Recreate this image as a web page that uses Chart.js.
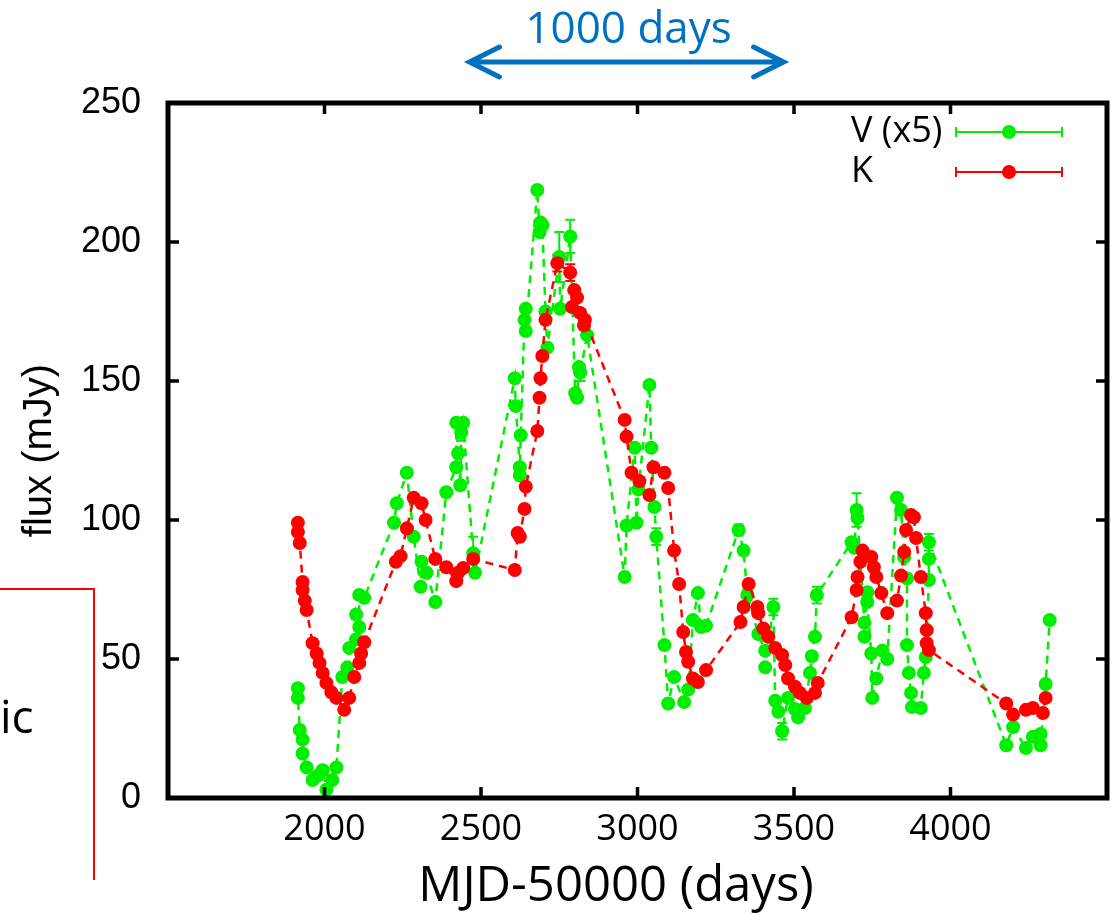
<!DOCTYPE html>
<html>
<head>
<meta charset="utf-8">
<title>V and K light curves</title>
<script src="https://cdn.jsdelivr.net/npm/chart.js@4.4.1/dist/chart.umd.min.js"></script>
<style>
    html, body { margin: 0; padding: 0; background: #fff; }
    #wrap { position: relative; width: 1117px; height: 915px; }
</style>
</head>
<body>
<div id="wrap"><canvas id="lc-chart"></canvas></div>
<script>
/* ── Data (MJD-50000, flux in mJy) ── */
var vDays = [1915, 1915, 1921, 1930, 1930, 1943, 1962, 1978, 1994, 2006, 2025, 2038, 2057, 2073, 2079, 2101, 2101, 2111, 2111, 2127,
    2222, 2231, 2263, 2285, 2307, 2310, 2326, 2354, 2389, 2421, 2421, 2427, 2434, 2437, 2443, 2475, 2481,
    2608, 2611, 2624, 2624, 2627, 2639, 2643, 2643, 2680, 2687, 2690, 2696, 2706, 2712, 2750, 2753, 2785,
    2801, 2807, 2813, 2817, 2839, 2959, 2965, 2991, 2997, 3003, 3038, 3044, 3054, 3060, 3086, 3098, 3117,
    3149, 3162, 3177, 3193, 3203, 3219, 3323, 3339, 3351, 3386, 3408, 3408, 3434, 3440, 3450, 3462, 3481,
    3503, 3513, 3535, 3551, 3557, 3567, 3573, 3684, 3693, 3700, 3703, 3725, 3725, 3734, 3734, 3747, 3750,
    3763, 3782, 3798, 3829, 3842, 3852, 3861, 3861, 3867, 3874, 3877, 3905, 3915, 3921, 3931, 3931, 3931,
    4178, 4200, 4241, 4263, 4288, 4288, 4304, 4317];
var vFlux = [39.5, 36, 24.5, 21, 16, 11, 6.5, 8, 10, 3, 6.5, 11, 43.5, 47, 54, 57, 66, 61.5, 73, 72,
    99, 106, 117, 94, 76, 85, 81, 70.5, 110, 119, 135, 124, 112.5, 131.5, 135, 88, 81,
    151, 141, 119, 116, 130.5, 172, 176, 168, 218.7, 203.6, 207, 206, 175, 162, 194.6, 176, 202,
    145.6, 144, 155, 153, 166.5, 79.5, 98, 126, 99, 111, 148.6, 126, 104.7, 94, 55, 34, 43.5,
    34.5, 39, 64, 73.7, 61.5, 62, 96.4, 89, 73, 59, 53, 47, 68.7, 35, 31, 24, 36,
    32, 29, 32.4, 45, 51, 58, 73, 92, 90, 103.6, 100.7, 63, 58, 74, 70.5, 52, 36,
    43, 53, 50, 108, 103.6, 86.7, 79, 55, 45, 37.8, 32.7, 32.4, 45, 50.7, 78.4, 86, 92,
    19, 25.5, 18, 22, 23, 19, 41, 64];
var vErr = [0, 0, 0, 0, 0, 0, 0, 0, 0, 0, 0, 0, 0, 0, 0, 0, 0, 0, 0, 0,
    0, 0, 0, 0, 0, 0, 0, 0, 0, 0, 0, 0, 0, 3, 0, 6, 0,
    0, 0, 0, 0, 0, 0, 0, 0, 0, 0, 0, 0, 0, 0, 9, 0, 6,
    0, 0, 0, 3, 0, 0, 0, 0, 0, 0, 0, 0, 0, 3, 0, 0, 0,
    0, 0, 0, 0, 0, 0, 2, 0, 2, 0, 0, 0, 3, 0, 0, 3, 0,
    0, 0, 0, 0, 0, 0, 3, 0, 0, 6, 0, 0, 0, 0, 0, 0, 0,
    0, 0, 0, 0, 0, 0, 0, 0, 0, 0, 0, 0, 0, 0, 0, 0, 3,
    0, 0, 0, 0, 0, 0, 0, 0];

var kDays = [1915, 1915, 1921, 1930, 1930, 1937, 1943, 1962, 1975, 1984, 1994, 2006, 2022, 2038, 2063, 2079, 2095, 2111, 2117, 2127,
    2228, 2243, 2263, 2285, 2310, 2323, 2354, 2389, 2421, 2427, 2443, 2475,
    2608, 2617, 2624, 2639, 2643, 2680, 2687, 2690, 2696, 2706, 2744, 2785, 2791, 2798, 2807, 2817, 2829, 2832,
    2959, 2965, 2981, 3006, 3038, 3051, 3086, 3098, 3117, 3133, 3146, 3155, 3162, 3177, 3193, 3219,
    3329, 3339, 3355, 3383, 3386, 3402, 3418, 3440, 3462, 3472, 3481, 3503, 3519, 3541, 3567, 3576,
    3684, 3700, 3703, 3712, 3719, 3747, 3755, 3763, 3779, 3798, 3829, 3842, 3852, 3858, 3874, 3883, 3890,
    3905, 3921, 3924, 3924, 3931, 4178, 4200, 4241, 4263, 4295, 4304];
var kFlux = [99, 95.7, 91.7, 77.7, 74.8, 71, 67.6, 55.7, 52, 48.6, 45, 41.4, 38, 36, 31.7, 36, 43.5, 48.6, 52, 56,
    85, 87, 97, 108, 106, 100, 86, 83, 78, 81, 82.7, 86,
    82, 95.3, 94, 104, 112, 132, 144, 151, 159, 172, 192.4, 189, 176.6, 182.7, 180, 174.5, 170, 172,
    136, 130, 117, 114, 109, 119, 117, 111.5, 89, 77, 59.7, 52.5, 49, 43, 41.7, 46,
    63.3, 68.7, 77, 68.7, 66.5, 61, 58, 54, 51.4, 47.8, 43, 40, 37.8, 36, 37.8, 41.4,
    65, 74.8, 79.5, 85, 89, 86.7, 83, 79.5, 73.7, 66.5, 71, 80, 88.5, 96.4, 101.8, 101, 93.5,
    79.5, 66.5, 60.4, 55.7, 53.2, 34, 30, 31.7, 32.4, 30.6, 36];
var kErr = [0, 0, 0, 0, 0, 0, 0, 0, 0, 0, 0, 0, 0, 0, 0, 0, 0, 0, 0, 0,
    0, 0, 0, 0, 0, 0, 0, 0, 0, 0, 0, 0,
    0, 0, 0, 0, 0, 0, 0, 0, 0, 0, 3, 3, 0, 0, 0, 0, 0, 0,
    0, 0, 0, 0, 0, 0, 0, 0, 0, 0, 0, 0, 0, 0, 0, 0,
    0, 0, 0, 0, 0, 0, 0, 0, 0, 0, 0, 0, 0, 0, 0, 0,
    0, 0, 0, 0, 0, 0, 0, 0, 0, 0, 0, 0, 0, 0, 0, 0, 0,
    0, 0, 0, 0, 0, 0, 0, 0, 0, 0, 0];

var seriesLabels = ['V (x5)', 'K'];
var xTicks = [2000, 2500, 3000, 3500, 4000];
var yTicks = [0, 50, 100, 150, 200, 250];
var spanFrom = 2460, spanTo = 3470;   // the "1000 days" arrow
var spanLabel = '1000 days';

(function () {
    'use strict';

    var colours = {
        green: '#00ee00',
        red:   '#ff0000',
        blue:  '#0070c0',
        ink:   '#000000'
    };

    function toPoints(xs, ys) {
        return xs.map(function (d, i) { return { x: d, y: ys[i] }; });
    }

    /* ── Frame, inward ticks, error bars, legend and slide annotations ── */
    var framePlugin = {
        id: 'gnuplotFrame',
        beforeDatasetsDraw: function (chart) {
            var ctx = chart.ctx;
            var xs = chart.scales.x, ys = chart.scales.y;
            var sets = [[vDays, vFlux, vErr, colours.green], [kDays, kFlux, kErr, colours.red]];
            ctx.save();
            ctx.lineWidth = 2;
            sets.forEach(function (s) {
                ctx.strokeStyle = s[3];
                s[2].forEach(function (e, i) {
                    if (!e) { return; }
                    var px = xs.getPixelForValue(s[0][i]);
                    var lo = ys.getPixelForValue(s[1][i] - e);
                    var hi = ys.getPixelForValue(s[1][i] + e);
                    ctx.beginPath();
                    ctx.moveTo(px, lo); ctx.lineTo(px, hi);
                    ctx.moveTo(px - 5, lo); ctx.lineTo(px + 5, lo);
                    ctx.moveTo(px - 5, hi); ctx.lineTo(px + 5, hi);
                    ctx.stroke();
                });
            });
            ctx.restore();
        },
        afterDraw: function (chart) {
            var ctx = chart.ctx;
            var a = chart.chartArea;
            var xs = chart.scales.x, ys = chart.scales.y;
            ctx.save();

            // border + mirrored inward ticks
            ctx.strokeStyle = colours.ink;
            ctx.lineWidth = 5;
            ctx.strokeRect(a.left, a.top, a.right - a.left, a.bottom - a.top);
            ctx.lineWidth = 3.5;
            ctx.beginPath();
            yTicks.forEach(function (v) {
                var py = ys.getPixelForValue(v);
                ctx.moveTo(a.left, py); ctx.lineTo(a.left + 11, py);
                ctx.moveTo(a.right, py); ctx.lineTo(a.right - 11, py);
            });
            xTicks.forEach(function (v) {
                var px = xs.getPixelForValue(v);
                ctx.moveTo(px, a.bottom); ctx.lineTo(px, a.bottom - 11);
                ctx.moveTo(px, a.top); ctx.lineTo(px, a.top + 11);
            });
            ctx.stroke();

            // legend (gnuplot style: line with error caps and a point)
            var rows = [[seriesLabels[0], colours.green], [seriesLabels[1], colours.red]];
            ctx.font = '36px "Open Sans", sans-serif';
            ctx.textBaseline = 'middle';
            ctx.textAlign = 'left';
            rows.forEach(function (r, i) {
                var y = a.top + 29 + i * 40;
                var x0 = a.right - 151, x1 = a.right - 45;
                ctx.fillStyle = colours.ink;
                ctx.fillText(r[0], a.right - 256, y);
                ctx.strokeStyle = r[1];
                ctx.fillStyle = r[1];
                ctx.lineWidth = 2;
                ctx.beginPath();
                ctx.moveTo(x0, y); ctx.lineTo(x1, y);
                ctx.moveTo(x0, y - 5); ctx.lineTo(x0, y + 5);
                ctx.moveTo(x1, y - 5); ctx.lineTo(x1, y + 5);
                ctx.stroke();
                ctx.beginPath();
                ctx.arc((x0 + x1) / 2, y, 7, 0, Math.PI * 2);
                ctx.fill();
            });

            // x axis title (sits a little left of centre on the slide)
            ctx.fillStyle = colours.ink;
            ctx.font = '49px "Open Sans", sans-serif';
            ctx.textAlign = 'center';
            ctx.textBaseline = 'alphabetic';
            ctx.fillText('MJD-50000 (days)', 616, 901);

            // "1000 days" arrow
            var ax0 = xs.getPixelForValue(spanFrom), ax1 = xs.getPixelForValue(spanTo);
            var ay = 62;
            ctx.strokeStyle = colours.blue;
            ctx.fillStyle = colours.blue;
            ctx.lineWidth = 5;
            ctx.lineCap = 'round';
            ctx.beginPath();
            ctx.moveTo(ax0 + 2, ay); ctx.lineTo(ax1 - 2, ay);
            ctx.moveTo(ax0 + 31, ay - 15); ctx.lineTo(ax0 + 1, ay); ctx.lineTo(ax0 + 31, ay + 15);
            ctx.moveTo(ax1 - 31, ay - 15); ctx.lineTo(ax1 - 1, ay); ctx.lineTo(ax1 - 31, ay + 15);
            ctx.stroke();
            ctx.font = '44px "Open Sans", sans-serif';
            ctx.textAlign = 'center';
            ctx.fillText(spanLabel, (ax0 + ax1) / 2 + 2, 43);

            // clipped slide text box on the left
            ctx.strokeStyle = '#ff0000';
            ctx.lineWidth = 2;
            ctx.lineCap = 'butt';
            ctx.beginPath();
            ctx.moveTo(0, 589); ctx.lineTo(94, 589); ctx.lineTo(94, 880);
            ctx.stroke();
            ctx.fillStyle = colours.ink;
            ctx.font = '46px "Open Sans", sans-serif';
            ctx.textAlign = 'left';
            ctx.fillText('ic', 0, 733);

            ctx.restore();
        }
    };

    var canvas = document.getElementById('lc-chart');

    new Chart(canvas, {
        type: 'scatter',
        data: {
            datasets: [
                {
                    label: seriesLabels[0],
                    data: toPoints(vDays, vFlux),
                    showLine: true,
                    borderColor: colours.green,
                    backgroundColor: colours.green,
                    borderWidth: 2.5,
                    borderDash: [8, 6],
                    pointRadius: 7,
                    pointBorderWidth: 0,
                    order: 2
                },
                {
                    label: seriesLabels[1],
                    data: toPoints(kDays, kFlux),
                    showLine: true,
                    borderColor: colours.red,
                    backgroundColor: colours.red,
                    borderWidth: 2.5,
                    borderDash: [8, 6],
                    pointRadius: 7,
                    pointBorderWidth: 0,
                    order: 1
                }
            ]
        },
        options: {
            responsive: true,
            maintainAspectRatio: false,
            animation: false,
            events: [],
            layout: { padding: { top: 103, right: 4, left: 0, bottom: 0 } },
            plugins: {
                legend: { display: false },
                tooltip: { enabled: false }
            },
            scales: {
                x: {
                    type: 'linear',
                    min: 1500,
                    max: 4500,
                    grid: { display: false, drawTicks: false },
                    border: { display: false },
                    afterFit: function (scale) { scale.height = 117; },
                    ticks: {
                        stepSize: 500,
                        padding: 10,
                        color: colours.ink,
                        font: { family: '"Open Sans", sans-serif', size: 36 },
                        callback: function (v) { return xTicks.indexOf(v) >= 0 ? String(v) : ''; }
                    }
                },
                y: {
                    min: 0,
                    max: 250,
                    grid: { display: false, drawTicks: false },
                    border: { display: false },
                    afterFit: function (scale) { scale.width = 168; },
                    title: {
                        display: true,
                        text: 'flux (mJy)',
                        color: colours.ink,
                        font: { family: '"Liberation Sans", Arial, sans-serif', size: 40 },
                        padding: { top: 16, bottom: 0 }
                    },
                    ticks: {
                        stepSize: 50,
                        padding: 27,
                        color: colours.ink,
                        font: { family: '"Liberation Sans", Arial, sans-serif', size: 36 }
                    }
                }
            }
        },
        plugins: [framePlugin]
    });
})();
</script>
</body>
</html>
